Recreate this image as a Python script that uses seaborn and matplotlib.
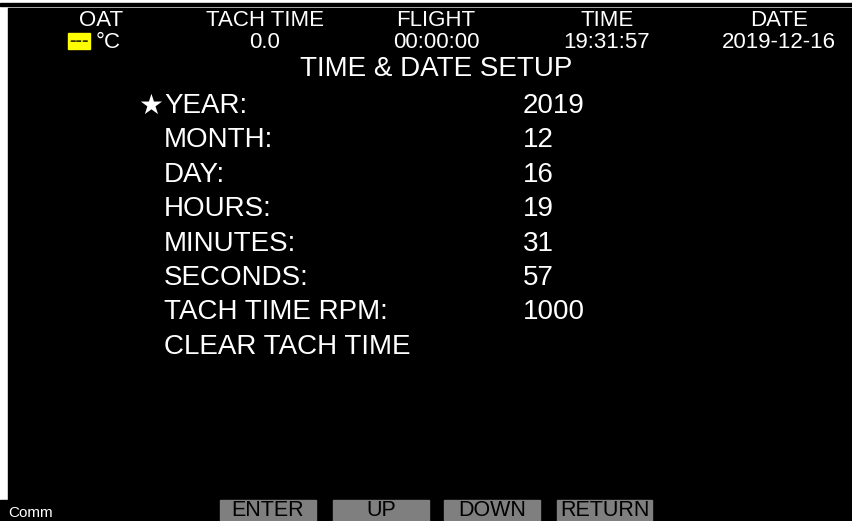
import matplotlib
matplotlib.use('Agg')
import matplotlib.pyplot as plt
import matplotlib.patches as patches
import seaborn as sns

# header fields
header_titles = ['OAT', 'TACH TIME', 'FLIGHT', 'TIME', 'DATE']
header_values = ['', '0.0', '00:00:00', '19:31:57', '2019-12-16']
oat_value = '---'
oat_unit = '°C'

# menu
screen_title = 'TIME & DATE SETUP'
menu_labels = ['YEAR:', 'MONTH:', 'DAY:', 'HOURS:', 'MINUTES:', 'SECONDS:',
               'TACH TIME RPM:', 'CLEAR TACH TIME']
menu_values = ['2019', '12', '16', '19', '31', '57', '1000', '']
selected = 0

# soft keys
buttons = ['ENTER', 'UP', 'DOWN', 'RETURN']
status_text = 'Comm'

sns.set_style('white')
plt.rcParams['font.family'] = ['Liberation Sans', 'DejaVu Sans']

W, H = 853, 521
fig = plt.figure(figsize=(W / 100, H / 100), dpi=100)
ax = fig.add_axes([0, 0, 1, 1])
ax.set_xlim(0, W)
ax.set_ylim(H, 0)
ax.axis('off')
fig.patch.set_facecolor('white')

# frame
ax.add_patch(patches.Rectangle((0, 3), W, 3, color='black'))
ax.add_patch(patches.Rectangle((8, 8), W - 8, H - 8, color='black'))
ax.add_patch(patches.Rectangle((0, 500), 8, H - 500, color='black'))

# header
col_x = [101, 265, 436, 607, 779]
for x, t, v in zip(col_x, header_titles, header_values):
    ax.text(x, 20, t, color='white', fontsize=16, ha='center', va='center')
    if v:
        ax.text(x, 42, v, color='white', fontsize=16, ha='center', va='center')
ax.add_patch(patches.Rectangle((68, 33), 22, 16, color='#ffff00'))
ax.text(79, 41, oat_value, color='#333300', fontsize=14, ha='center', va='center',
        fontweight='bold')
ax.text(96, 42, oat_unit, color='white', fontsize=16, ha='left', va='center')

ax.text(436, 69, screen_title, color='white', fontsize=20, ha='center', va='center')

# menu rows
row_y0, row_step = 106, 34.4
for i, (lab, val) in enumerate(zip(menu_labels, menu_values)):
    y = row_y0 + i * row_step
    if i == selected:
        ax.text(163, y, '★', color='white', fontsize=20, ha='right', va='center',
                family=['DejaVu Sans'])
    ax.text(164, y, lab, color='white', fontsize=20, ha='left', va='center')
    if val:
        ax.text(523, y, val, color='white', fontsize=20, ha='left', va='center')

# soft keys
btn_x = [(220, 316), (333, 429), (444, 540), (557, 652)]
for (x0, x1), b in zip(btn_x, buttons):
    ax.add_patch(patches.Rectangle((x0, 500), x1 - x0, 21, color='#7f7f7f'))
    ax.text((x0 + x1) / 2, 510.5, b, color='black', fontsize=15.5, ha='center', va='center')

ax.text(8, 513, status_text, color='white', fontsize=11, ha='left', va='center')

fig.savefig('out.png', dpi=100, facecolor='white')
